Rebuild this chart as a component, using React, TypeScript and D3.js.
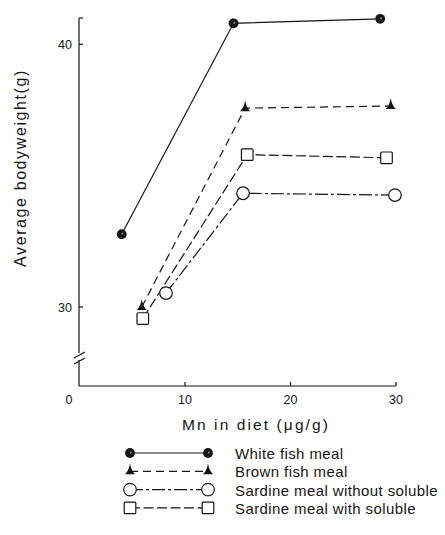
import React from "react";
import * as d3 from "d3";

// values (Mn in diet, µg/g  ->  average bodyweight, g)
const whiteX = [4.0, 14.6, 28.5];
const whiteY = [32.77, 40.8, 40.97];
const brownX = [5.9, 15.7, 29.5];
const brownY = [30.0, 37.57, 37.65];
const sardineNoX = [8.2, 15.5, 29.9];
const sardineNoY = [30.53, 34.33, 34.26];
const sardineWithX = [6.0, 15.9, 29.1];
const sardineWithY = [29.56, 35.8, 35.68];

const xTicks = [10, 20, 30];
const yTicks = [30, 40];
const legendLabels = [
  "White fish meal",
  "Brown fish meal",
  "Sardine meal without soluble",
  "Sardine meal with soluble",
];

const W = 445;
const H = 535;
const FONT = "'Liberation Sans', Arial, Helvetica, sans-serif";
const INK = "#151515";

const x = d3.scaleLinear().domain([0, 30]).range([79.5, 396]);
const y = d3.scaleLinear().domain([30, 40]).range([307, 44.3]);
const axisX = 79;
const axisY = 386;
const breakY = 357;

type Series = {
  xs: number[];
  ys: number[];
  dash: string | undefined;
  marker: "dot" | "tri" | "circle" | "square";
};

const series: Series[] = [
  { xs: whiteX, ys: whiteY, dash: undefined, marker: "dot" },
  { xs: brownX, ys: brownY, dash: "8,5", marker: "tri" },
  { xs: sardineNoX, ys: sardineNoY, dash: "13,3,3,3", marker: "circle" },
  { xs: sardineWithX, ys: sardineWithY, dash: "10,3.5", marker: "square" },
];

const Marker = ({ kind, cx, cy }: { kind: Series["marker"]; cx: number; cy: number }) => {
  if (kind === "dot") {
    return (
      <g>
        <circle cx={cx} cy={cy} r={4.9} fill={INK} />
        <circle cx={cx + 0.8} cy={cy - 0.6} r={1} fill="#888" />
      </g>
    );
  }
  if (kind === "tri") {
    return (
      <path
        d={`M${cx},${cy - 8} Q${cx + 1},${cy - 1} ${cx + 5},${cy + 3} L${cx - 5},${cy + 3} Q${cx - 1},${cy - 1} ${cx},${cy - 8} Z`}
        fill={INK}
      />
    );
  }
  if (kind === "circle") {
    return <circle cx={cx} cy={cy} r={6.3} fill="#fff" stroke={INK} strokeWidth={1.2} />;
  }
  return (
    <rect x={cx - 5.8} y={cy - 5.8} width={11.6} height={11.6} rx={1} fill="#fff" stroke={INK} strokeWidth={1.2} />
  );
};

const App = () => {
  const line = d3
    .line<[number, number]>()
    .x(d => x(d[0]))
    .y(d => y(d[1]));

  const legendTop = 453;
  const legendStep = 18.3;

  return (
    <svg
      width={W}
      height={H}
      style={{ position: "absolute", left: 0, top: 0, background: "#fff" }}
      fontFamily={FONT}
    >
      {/* y axis, broken near the bottom */}
      <line x1={axisX} x2={axisX} y1={y(41)} y2={breakY - 4} stroke={INK} strokeWidth={1.2} />
      <line x1={axisX} x2={axisX} y1={breakY + 3} y2={axisY} stroke={INK} strokeWidth={1.2} />
      <line x1={74} y1={breakY + 1} x2={85} y2={breakY - 5} stroke={INK} strokeWidth={1.2} />
      <line x1={74} y1={breakY + 7} x2={85} y2={breakY + 1} stroke={INK} strokeWidth={1.2} />
      {[41, ...yTicks].map(t => (
        <line key={t} x1={axisX} x2={axisX + 4} y1={y(t)} y2={y(t)} stroke={INK} strokeWidth={1.2} />
      ))}
      {yTicks.map(t => (
        <text key={t} x={72} y={y(t) + 4.5} textAnchor="end" fontSize={12.5} fill={INK}>
          {t}
        </text>
      ))}

      {/* x axis */}
      <line x1={axisX} x2={x(30)} y1={axisY} y2={axisY} stroke={INK} strokeWidth={1.2} />
      {xTicks.map(t => (
        <line key={t} x1={x(t)} x2={x(t)} y1={axisY} y2={axisY - 4} stroke={INK} strokeWidth={1.2} />
      ))}
      {xTicks.map(t => (
        <text key={t} x={x(t)} y={404} textAnchor="middle" fontSize={12.5} fill={INK}>
          {t}
        </text>
      ))}
      <text x={69} y={404} textAnchor="middle" fontSize={12.5} fill={INK}>
        0
      </text>

      {/* axis titles */}
      <text
        transform="translate(26,168) rotate(-90)"
        textAnchor="middle"
        fontSize={16}
        letterSpacing={1.6}
        fill={INK}
      >
        Average bodyweight(g)
      </text>
      <text x={256} y={430} textAnchor="middle" fontSize={15.5} letterSpacing={2.1} fill={INK}>
        Mn in diet (μg/g)
      </text>

      {/* series */}
      {series.map((s, i) => (
        <path
          key={i}
          d={line(s.xs.map((v, j) => [v, s.ys[j]]) as [number, number][]) || ""}
          fill="none"
          stroke={INK}
          strokeWidth={1.2}
          strokeDasharray={s.dash}
        />
      ))}
      {series.map((s, i) =>
        s.xs.map((v, j) => <Marker key={`${i}-${j}`} kind={s.marker} cx={x(v)} cy={y(s.ys[j])} />)
      )}

      {/* legend */}
      {series.map((s, i) => {
        const ly = legendTop + i * legendStep;
        return (
          <g key={i}>
            <line x1={130} x2={208} y1={ly} y2={ly} stroke={INK} strokeWidth={1.2} strokeDasharray={s.dash} />
            <Marker kind={s.marker} cx={130} cy={ly} />
            <Marker kind={s.marker} cx={208} cy={ly} />
            <text x={235} y={ly + 6} fontSize={15} letterSpacing={0.4} fill={INK}>
              {legendLabels[i]}
            </text>
          </g>
        );
      })}
    </svg>
  );
};

export default App;
